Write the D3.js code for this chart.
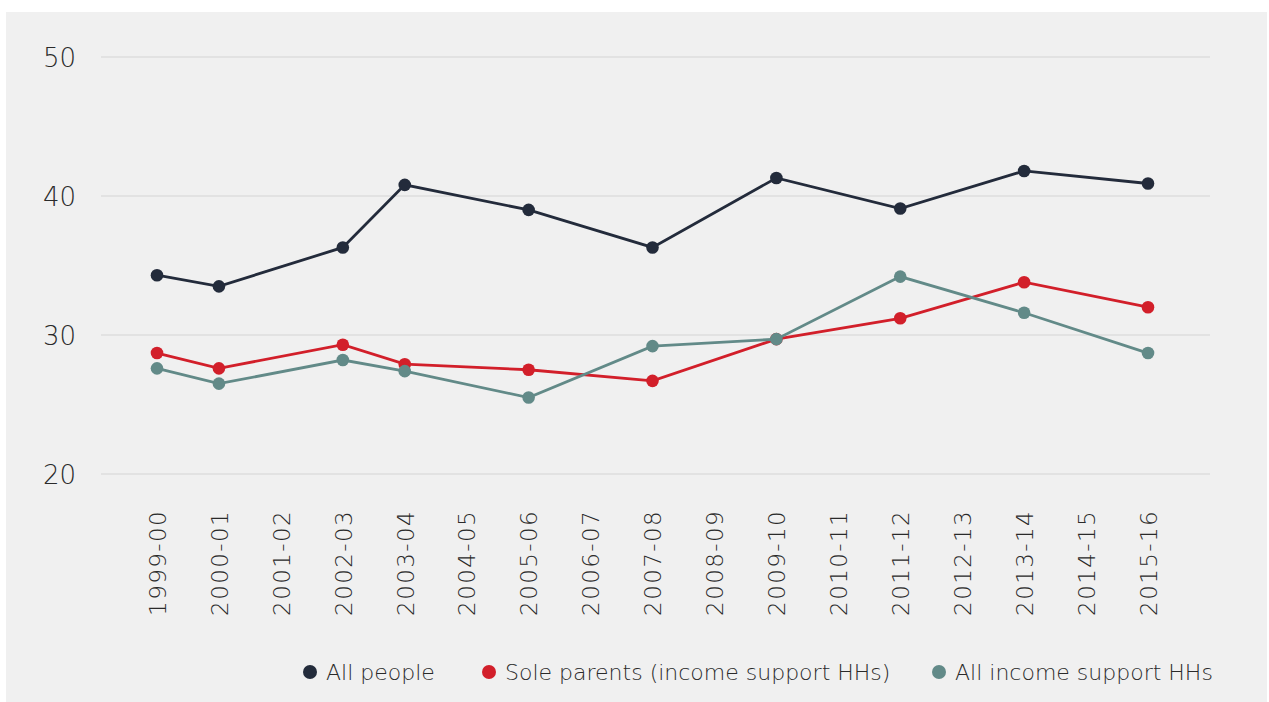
<!DOCTYPE html>
<html>
<head>
<meta charset="utf-8">
<script src="https://cdn.jsdelivr.net/npm/d3@7"></script>
<style>
  html, body { margin: 0; padding: 0; background: #ffffff; }
  svg { display: block; }
  text { font-family: "DejaVu Sans", sans-serif; font-weight: 200; fill: #2a2a2a; }
</style>
</head>
<body>
<svg id="chart" width="1269" height="702"></svg>
<script>
const categories = ["1999-00","2000-01","2001-02","2002-03","2003-04","2004-05","2005-06","2006-07","2007-08","2008-09","2009-10","2010-11","2011-12","2012-13","2013-14","2014-15","2015-16"];
const allPeople   = [34.3, 33.5, null, 36.3, 40.8, null, 39.0, null, 36.3, null, 41.3, null, 39.1, null, 41.8, null, 40.9];
const soleParents = [28.7, 27.6, null, 29.3, 27.9, null, 27.5, null, 26.7, null, 29.7, null, 31.2, null, 33.8, null, 32.0];
const allIncome   = [27.6, 26.5, null, 28.2, 27.4, null, 25.5, null, 29.2, null, 29.7, null, 34.2, null, 31.6, null, 28.7];
const seriesNames = ["All people", "Sole parents (income support HHs)", "All income support HHs"];
const yTicks = [20, 30, 40, 50];

const colors = ["#232b3b", "#d21f2a", "#628a88"];
const seriesValues = [allPeople, soleParents, allIncome];

const svg = d3.select("#chart");
svg.append("rect").attr("x", 6).attr("y", 12).attr("width", 1261).attr("height", 690).attr("fill", "#f0f0f0");

const x = d3.scalePoint().domain(categories).range([157, 1148]);
const y = d3.scaleLinear().domain([20, 50]).range([474, 57]);

// gridlines
svg.append("g").selectAll("line").data(yTicks).join("line")
  .attr("x1", 101).attr("x2", 1210)
  .attr("y1", d => y(d)).attr("y2", d => y(d))
  .attr("stroke", "#dedede").attr("stroke-width", 1.5);

// y axis labels
const yAxis = d3.axisLeft(y).tickValues(yTicks).tickSize(0).tickPadding(0);
const gy = svg.append("g").attr("transform", "translate(76,0)").call(yAxis);
gy.select(".domain").remove();
gy.selectAll("text").style("font-size", "26px").attr("fill", "#2a2a2a")
  .style("font-family", "'DejaVu Sans', sans-serif").style("font-weight", 200).attr("dy", "0.38em");

// x axis labels
const xAxis = d3.axisBottom(x).tickSize(0).tickPadding(0);
const gx = svg.append("g").attr("transform", "translate(0,510)").call(xAxis);
gx.select(".domain").remove();
gx.selectAll("text")
  .style("font-size", "23px").style("letter-spacing", "1.4px").attr("fill", "#2a2a2a")
  .style("font-family", "'DejaVu Sans', sans-serif").style("font-weight", 200)
  .attr("transform", "rotate(-90)")
  .attr("text-anchor", "end")
  .attr("dx", 0).attr("dy", "0.36em").attr("x", 0).attr("y", 0);

// lines and points
const line = d3.line().x(d => x(d.c)).y(d => y(d.v));
seriesValues.forEach((vals, i) => {
  const pts = categories.map((c, j) => ({c, v: vals[j]})).filter(d => d.v !== null);
  svg.append("path").datum(pts).attr("d", line)
    .attr("fill", "none").attr("stroke", colors[i]).attr("stroke-width", 2.8);
  svg.append("g").selectAll("circle").data(pts).join("circle")
    .attr("cx", d => x(d.c)).attr("cy", d => y(d.v)).attr("r", 6.3)
    .attr("fill", colors[i]);
});

// legend
const legendX = [310, 489, 939];
const lg = svg.append("g");
seriesNames.forEach((n, i) => {
  lg.append("circle").attr("cx", legendX[i]).attr("cy", 672).attr("r", 7).attr("fill", colors[i]);
  lg.append("text").attr("x", legendX[i] + 16).attr("y", 672).attr("dy", "0.36em")
    .style("font-size", "22px").text(n);
});
</script>
</body>
</html>
